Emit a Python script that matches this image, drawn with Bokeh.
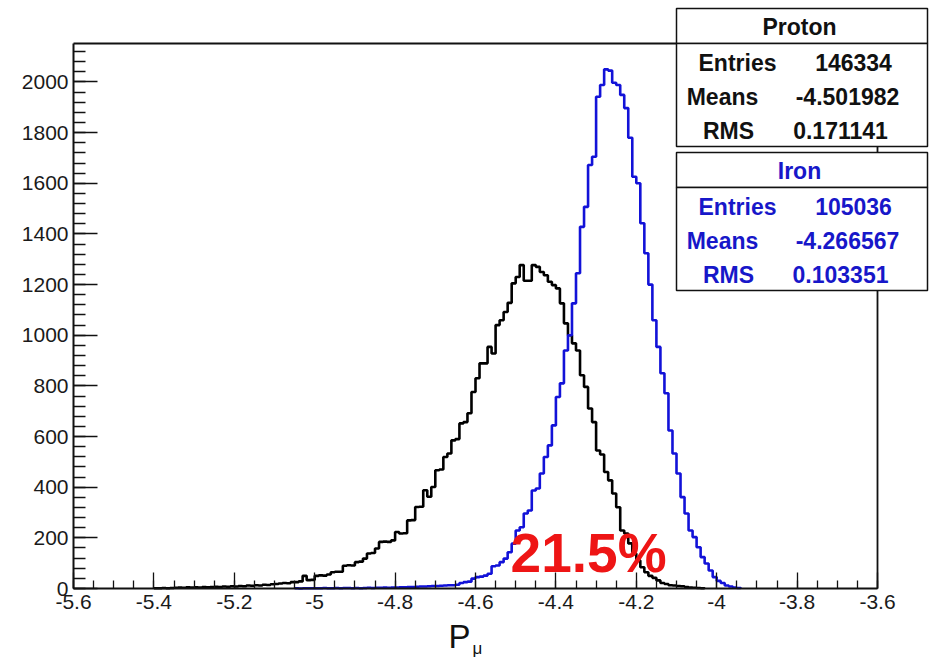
import numpy as np
from bokeh.plotting import figure
from bokeh.models import Range1d, Label, BoxAnnotation, FixedTicker
from bokeh.embed import file_html
from bokeh.resources import INLINE

# ---- histogram data: 0.01-wide bins on [-5.6, -3.6] ----
BIN_LO = -5.6
BIN_W = 0.01

# Proton: counts from bin 20 (x = -5.40) onward
proton_first_bin = 20
proton_counts = [
    1, 1, 2, 1, 2, 3, 4, 3, 5, 4,
    5, 4, 6, 5, 6, 7, 6, 8, 7, 9,
    8, 10, 9, 12, 11, 13, 12, 15, 14, 17,
    18, 20, 22, 21, 25, 25, 28, 50, 33, 34,
    50, 52, 51, 55, 64, 66, 66, 90, 92, 91,
    104, 106, 118, 138, 140, 158, 184, 185, 184, 190,
    223, 217, 218, 269, 270, 322, 323, 388, 362, 401,
    467, 470, 519, 533, 585, 590, 652, 657, 692, 776,
    830, 889, 889, 954, 928, 1040, 1059, 1092, 1128, 1205,
    1230, 1277, 1215, 1215, 1277, 1270, 1250, 1237, 1211, 1198,
    1185, 1126, 1047, 1000, 968, 940, 842, 796, 711, 657,
    545, 529, 460, 427, 375, 321, 229, 217, 178, 138,
    111, 84, 64, 50, 42, 32, 22, 18, 13, 12,
    10, 9, 6, 4, 3, 2, 1,
]

# Iron: counts from bin 55 (x = -5.05) onward
iron_first_bin = 55
iron_counts = [
    1, 0, 1, 1, 1, 1, 1, 2, 1, 1,
    2, 1, 2, 2, 1, 2, 1, 2, 3, 2,
    3, 3, 4, 3, 4, 4, 5, 5, 6, 6,
    7, 8, 8, 9, 10, 10, 11, 12, 13, 13,
    15, 22, 25, 27, 39, 45, 47, 51, 58, 88,
    91, 104, 118, 143, 177, 229, 242, 296, 308, 387,
    395, 454, 519, 565, 644, 756, 810, 940, 1000, 1126,
    1245, 1428, 1507, 1672, 1705, 1942, 1988, 2050, 2045, 1997,
    1988, 1949, 1897, 1780, 1626, 1600, 1442, 1324, 1200, 1059,
    954, 850, 771, 624, 533, 454, 361, 296, 229, 203,
    163, 124, 99, 71, 45, 30, 22, 12, 8, 4, 2,
]

# stat box contents
proton_stats = [("Entries", "146334"), ("Means", "-4.501982"), ("RMS", "0.171141")]
iron_stats = [("Entries", "105036"), ("Means", "-4.266567"), ("RMS", "0.103351")]

x_ticks = [-5.6, -5.4, -5.2, -5.0, -4.8, -4.6, -4.4, -4.2, -4.0, -3.8, -3.6]
x_tick_labels = ["-5.6", "-5.4", "-5.2", "-5", "-4.8", "-4.6", "-4.4", "-4.2", "-4", "-3.8", "-3.6"]
y_ticks = [0, 200, 400, 600, 800, 1000, 1200, 1400, 1600, 1800, 2000]

overlap_text = "21.5%"

X_MIN, X_MAX = -5.6, -3.6
Y_MAX = 2152

FONT = "Liberation Sans"
INK = "#111111"
BLUE = "#1212d8"
TXT_BLUE = "#1717c9"

W, H = 930, 657
# histogram frame on the canvas (pixels); the drawing area is the whole
# canvas so that tick labels, stat boxes and the axis title all fit in it
HL, HT, HR, HB = 73, 43, 877, 588

x_per_px = (X_MAX - X_MIN) / (HR - HL)
y_per_px = Y_MAX / (HB - HT)
x_range = Range1d(X_MIN - HL * x_per_px, X_MAX + (W - HR) * x_per_px)
y_range = Range1d(-(H - HB) * y_per_px, Y_MAX + HT * y_per_px)


def outline(first_bin, counts):
    """Step outline of a histogram, closed down to zero at both ends."""
    edges = BIN_LO + BIN_W * (first_bin + np.arange(len(counts) + 1))
    xs = np.concatenate([[edges[0]], edges])
    ys = np.concatenate([[0], counts, [0]])
    return xs, ys


p = figure(
    width=W, height=H, x_range=x_range, y_range=y_range,
    output_backend="svg", toolbar_location=None,
    min_border=0, min_border_left=0, min_border_right=0,
    min_border_top=0, min_border_bottom=0,
)
p.background_fill_color = "white"
p.border_fill_color = "white"
p.grid.visible = False
p.outline_line_color = None

# axes with inward ticks, pinned to the histogram frame
p.xaxis.fixed_location = 0
p.yaxis.fixed_location = X_MIN
p.xaxis.bounds = (X_MIN, X_MAX)
p.yaxis.bounds = (0, Y_MAX)
p.xaxis.ticker = FixedTicker(ticks=x_ticks,
                             minor_ticks=list(np.round(np.arange(X_MIN, X_MAX + 0.001, 0.05), 2)))
p.xaxis.major_label_overrides = {t: s for t, s in zip(x_ticks, x_tick_labels)}
p.yaxis.ticker = FixedTicker(ticks=y_ticks, minor_ticks=list(range(0, Y_MAX, 40)))
for ax in (p.xaxis[0], p.yaxis[0]):
    ax.axis_line_color = INK
    ax.axis_line_width = 2
    ax.major_tick_line_color = INK
    ax.minor_tick_line_color = INK
    ax.major_tick_line_width = 1.3
    ax.minor_tick_line_width = 1.3
    ax.major_tick_out = 0
    ax.minor_tick_out = 0
    ax.major_label_text_font = FONT
    ax.major_label_text_font_size = "21px"
    ax.major_label_text_color = "#1a1a1a"
p.xaxis.major_tick_in = 16
p.xaxis.minor_tick_in = 8
p.xaxis.major_label_standoff = 6
p.yaxis.major_tick_in = 24
p.yaxis.minor_tick_in = 12
p.yaxis.major_label_standoff = 5

# top and right edges of the histogram frame
p.line([X_MIN, X_MAX, X_MAX], [Y_MAX, Y_MAX, 0], line_color=INK, line_width=1.8)

# histograms
px, py = outline(proton_first_bin, proton_counts)
p.step(px, py, mode="after", line_color="#000000", line_width=2.6)
ix, iy = outline(iron_first_bin, iron_counts)
p.step(ix, iy, mode="after", line_color=BLUE, line_width=2.6)

# overlap annotation
p.add_layout(Label(x=-4.3187, y=139, text=overlap_text, text_align="center",
                   text_baseline="middle", text_font=FONT, text_font_style="bold",
                   text_font_size="55px", text_color="#ee1515"))


def sx(cx):
    return cx


def sy(cy):
    return H - cy


def text(cx, cy, s, size="23px", color=INK, bold=True, align="center"):
    p.add_layout(Label(x=sx(cx), y=sy(cy), x_units="screen", y_units="screen", text=s,
                       text_align=align, text_baseline="middle", text_font=FONT,
                       text_font_style="bold" if bold else "normal",
                       text_font_size=size, text_color=color))


def box(l, t, r, b):
    p.add_layout(BoxAnnotation(left=sx(l), right=sx(r), top=sy(t), bottom=sy(b),
                               left_units="screen", right_units="screen",
                               top_units="screen", bottom_units="screen",
                               fill_color="white", fill_alpha=1.0,
                               line_color=INK, line_width=1.5, line_alpha=1.0))


def stat_box(top, title, rows, color):
    box(676, top, 927, top + 35)
    box(676, top + 35, 927, top + 138)
    text(799, top + 18, title, color=color)
    label_cx = [737, 722, 728]
    value_cx = [853, 847, 840]
    for i, (k, v) in enumerate(rows):
        cy = top + 54 + i * 34
        text(label_cx[i], cy, k, color=color)
        text(value_cx[i], cy, v, color=color)


stat_box(8, "Proton", proton_stats, INK)
stat_box(152, "Iron", iron_stats, TXT_BLUE)

# x-axis title P_mu
text(459, 636, "P", size="33px", bold=False)
text(472, 648, "\u03bc", size="17px", bold=False, align="left")

open("out.html", "w").write(file_html(p, INLINE))
